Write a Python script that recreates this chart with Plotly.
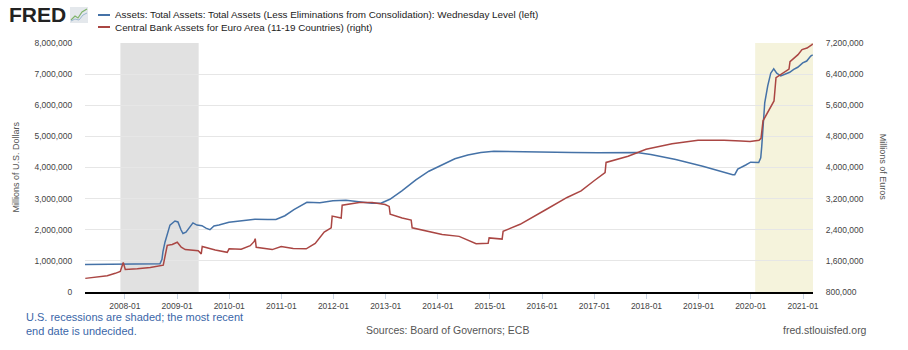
import plotly.graph_objects as go

# Fed total assets (WALCL), millions of USD - left axis
fed_dates = ["2007-03-28","2007-06-27","2007-09-26","2007-12-26","2008-03-26","2008-06-25","2008-09-03",
    "2008-09-17","2008-09-24","2008-10-08","2008-10-22","2008-11-12","2008-12-17","2009-01-07","2009-01-28",
    "2009-02-11","2009-03-04","2009-03-25","2009-04-22","2009-05-20","2009-06-24","2009-07-22","2009-08-19",
    "2009-09-16","2009-10-21","2009-12-30","2010-03-31","2010-06-30","2010-09-29","2010-11-24","2011-01-26",
    "2011-03-30","2011-06-29","2011-09-28","2011-12-28","2012-03-28","2012-06-27","2012-09-26","2012-11-28",
    "2013-01-30","2013-04-24","2013-07-31","2013-10-30","2014-01-29","2014-04-30","2014-07-30","2014-10-29",
    "2015-01-28","2015-07-29","2016-01-27","2016-07-27","2017-01-25","2017-07-26","2017-10-25","2018-01-31",
    "2018-07-25","2019-01-30","2019-05-29","2019-08-28","2019-09-11","2019-10-02","2019-11-27","2019-12-31",
    "2020-02-26","2020-03-11","2020-03-18","2020-03-25","2020-04-08","2020-04-29","2020-05-20","2020-06-10",
    "2020-07-01","2020-07-29","2020-08-26","2020-09-30","2020-10-28","2020-11-25","2020-12-30","2021-01-27",
    "2021-02-24","2021-03-10"]
fed_values = [880000,885000,885000,890000,895000,900000,905000,
    1050000,1300000,1600000,1800000,2150000,2280000,2250000,2000000,
    1880000,1920000,2050000,2220000,2150000,2130000,2050000,2000000,
    2120000,2150000,2240000,2300000,2340000,2330000,2330000,2450000,
    2650000,2880000,2870000,2930000,2950000,2900000,2850000,2850000,
    2980000,3250000,3600000,3880000,4080000,4280000,4400000,4480000,
    4520000,4500000,4490000,4480000,4470000,4490000,4480000,4420000,
    4260000,4040000,3880000,3770000,3770000,3950000,4080000,4170000,
    4160000,4310000,4670000,5250000,6080000,6620000,7030000,7170000,
    7030000,6940000,7000000,7060000,7150000,7220000,7360000,7420000,
    7580000,7620000]

# Euro area central bank assets, millions of EUR - right axis
ecb_dates = ["2007-03-30","2007-05-25","2007-08-31","2007-10-26","2007-11-30","2007-12-21","2007-12-28",
    "2008-01-04","2008-03-28","2008-06-27","2008-09-26","2008-10-10","2008-10-24","2008-11-28","2009-01-02",
    "2009-01-30","2009-02-27","2009-05-29","2009-06-19","2009-06-26","2009-09-25","2009-12-18","2009-12-31",
    "2010-03-26","2010-05-28","2010-06-25","2010-07-02","2010-07-09","2010-10-29","2010-12-31","2011-03-25",
    "2011-06-24","2011-08-26","2011-10-28","2011-12-16","2011-12-23","2012-02-24","2012-03-02","2012-06-29",
    "2012-09-28","2012-12-28","2013-01-25","2013-02-01","2013-04-26","2013-06-28","2013-07-05","2013-10-25",
    "2014-01-31","2014-05-30","2014-09-26","2014-12-19","2014-12-26","2015-03-27","2015-04-03","2015-07-31",
    "2015-10-30","2016-01-29","2016-06-24","2016-09-30","2016-12-30","2017-03-17","2017-03-24","2017-08-25",
    "2017-12-29","2018-06-29","2018-12-28","2019-06-28","2019-10-25","2019-12-27","2020-02-28","2020-03-13",
    "2020-03-27","2020-04-24","2020-06-12","2020-06-26","2020-09-25","2020-10-02","2020-11-27","2020-12-25",
    "2021-01-29","2021-03-05","2021-03-10"]
ecb_values = [1150000,1180000,1220000,1280000,1330000,1560000,1450000,
    1380000,1400000,1430000,1490000,1800000,2000000,2020000,2080000,
    1950000,1890000,1860000,1780000,1970000,1880000,1820000,1910000,
    1900000,1990000,2100000,2170000,1950000,1890000,1970000,1920000,
    1910000,2050000,2340000,2450000,2750000,2700000,3030000,3100000,
    3100000,3050000,3000000,2800000,2700000,2650000,2450000,2350000,
    2280000,2230000,2040000,2050000,2190000,2160000,2360000,2540000,
    2720000,2920000,3230000,3400000,3660000,3870000,4130000,4290000,
    4470000,4610000,4700000,4700000,4680000,4670000,4700000,4750000,
    5200000,5400000,5710000,6310000,6530000,6720000,6900000,7030000,
    7070000,7160000,7180000]

fed_name = "Assets: Total Assets: Total Assets (Less Eliminations from Consolidation): Wednesday Level (left)"
ecb_name = "Central Bank Assets for Euro Area (11-19 Countries) (right)"

recessions = [("2007-12-01", "2009-06-01", "#e1e1e1"), ("2020-02-01", "2021-03-12", "#f5f3dc")]

BLUE = "#4572a7"
RED = "#aa4643"
FONT = "Liberation Sans, Arial, sans-serif"

fig = go.Figure()
fig.add_trace(go.Scatter(x=fed_dates, y=fed_values, mode="lines", name=fed_name,
                         line=dict(color=BLUE, width=1.5), yaxis="y"))
fig.add_trace(go.Scatter(x=ecb_dates, y=ecb_values, mode="lines", name=ecb_name,
                         line=dict(color=RED, width=1.5), yaxis="y2"))

shapes = []
for s, e, c in recessions:
    shapes.append(dict(type="rect", xref="x", yref="paper", x0=s, x1=e, y0=0, y1=1,
                       fillcolor=c, line=dict(width=0), layer="below"))

W, L, R, T, B = 908, 85, 813.3, 43, 292
def px(x): return (x - L) / (R - L)
def py(y): return (B - y) / (B - T)

# legend line keys
shapes.append(dict(type="line", xref="paper", yref="paper", x0=px(98), x1=px(110), y0=py(15), y1=py(15),
                   line=dict(color=BLUE, width=2)))
shapes.append(dict(type="line", xref="paper", yref="paper", x0=px(98), x1=px(110), y0=py(27), y1=py(27),
                   line=dict(color=RED, width=2)))
# logo icon
shapes.append(dict(type="rect", xref="paper", yref="paper", x0=px(70), x1=px(88), y0=py(23), y1=py(7),
                   fillcolor="#e4e8ec", line=dict(width=0)))
shapes.append(dict(type="path", xref="paper", yref="paper",
                   path=f"M {px(71)} {py(20)} L {px(75)} {py(16)} L {px(78)} {py(18)} L {px(82)} {py(12)} L {px(87)} {py(9)}",
                   line=dict(color="#7fb36b", width=1.2)))
shapes.append(dict(type="path", xref="paper", yref="paper",
                   path=f"M {px(71)} {py(21)} L {px(75)} {py(19)} L {px(79)} {py(20)} L {px(83)} {py(15)} L {px(87)} {py(13)}",
                   line=dict(color="#9ab6cf", width=1)))

annotations = [
    dict(text="<b>FRED</b>", xref="paper", yref="paper", x=px(7), y=py(15), xanchor="left", yanchor="middle",
         showarrow=False, font=dict(family=FONT, size=21, color="#222222")),
    dict(text=fed_name, xref="paper", yref="paper", x=px(113), y=py(15), xanchor="left", yanchor="middle",
         showarrow=False, font=dict(family=FONT, size=9.9, color="#222222")),
    dict(text=ecb_name, xref="paper", yref="paper", x=px(113), y=py(27), xanchor="left", yanchor="middle",
         showarrow=False, font=dict(family=FONT, size=9.9, color="#222222")),
    dict(text="Millions of U.S. Dollars", xref="paper", yref="paper", x=px(15), y=0.5, textangle=-90,
         xanchor="center", yanchor="middle", showarrow=False, font=dict(family=FONT, size=9, color="#555555")),
    dict(text="Millions of Euros", xref="paper", yref="paper", x=px(884), y=0.5, textangle=90,
         xanchor="center", yanchor="middle", showarrow=False, font=dict(family=FONT, size=9, color="#555555")),
    dict(text="U.S. recessions are shaded; the most recent<br>end date is undecided.", xref="paper", yref="paper",
         x=px(24), y=py(324), xanchor="left", yanchor="middle", align="left", showarrow=False,
         font=dict(family=FONT, size=11, color="#3a66a8")),
    dict(text="Sources: Board of Governors; ECB", xref="paper", yref="paper", x=px(448), y=py(330),
         xanchor="center", yanchor="middle", showarrow=False, font=dict(family=FONT, size=10.5, color="#555555")),
    dict(text="fred.stlouisfed.org", xref="paper", yref="paper", x=px(869), y=py(330),
         xanchor="right", yanchor="middle", showarrow=False, font=dict(family=FONT, size=10.5, color="#555555")),
]

fig.update_layout(
    width=908, height=350,
    margin=dict(l=L, r=W - R, t=T, b=350 - B, pad=0),
    paper_bgcolor="white", plot_bgcolor="white",
    showlegend=False,
    shapes=shapes, annotations=annotations,
    font=dict(family=FONT, size=8.5, color="#555555"),
    xaxis=dict(type="date", range=["2007-03-28", "2021-03-12"], tick0="2008-01-01", dtick="M12",
               tickformat="%Y-%m", showgrid=False, showline=True, linecolor="#000000", linewidth=2,
               ticks="outside", ticklen=5, tickcolor="#c8d4e4", tickwidth=1, zeroline=False,
               tickfont=dict(family=FONT, size=8.5, color="#444444")),
    yaxis=dict(range=[0, 8000000], dtick=1000000, tickformat=",d", showgrid=True, gridcolor="#e6e6e6",
               gridwidth=1, zeroline=False, showline=False, ticks="outside", ticklen=10,
               tickcolor="rgba(0,0,0,0)", tickfont=dict(family=FONT, size=8.5, color="#444444")),
    yaxis2=dict(range=[800000, 7200000], dtick=800000, tickformat=",d", overlaying="y", side="right",
                showgrid=False, zeroline=False, showline=False, ticks="outside", ticklen=10,
                tickcolor="rgba(0,0,0,0)", tickfont=dict(family=FONT, size=8.5, color="#444444")),
)

fig.write_html("out.html")
